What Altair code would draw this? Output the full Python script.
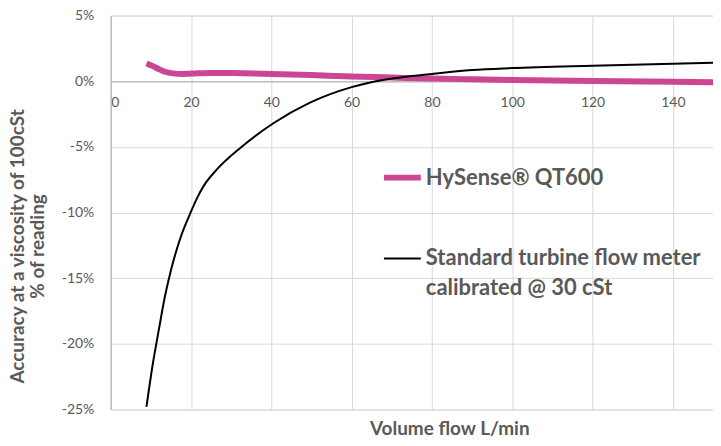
import altair as alt
import pandas as pd

# Values
flow_hysense = [8.9, 10.5, 12, 13.5, 15.5, 18, 22, 25, 30, 40, 50, 60, 70, 80, 90, 100, 120, 140, 150]
acc_hysense = [1.35, 1.15, 0.92, 0.72, 0.6, 0.56, 0.6, 0.63, 0.62, 0.56, 0.47, 0.36, 0.28, 0.2, 0.15, 0.1, 0.02, -0.04, -0.07]

flow_turbine = [8.9, 10.5, 12, 13.5, 15, 17.4, 19.9, 21.5, 23.2, 26.5, 32.2, 40.5, 49.5, 60, 68.5, 80, 90, 100, 120, 140, 150]
acc_turbine = [-24.8, -21.5, -18.9, -16.4, -14.4, -11.9, -10.0, -8.9, -7.95, -6.7, -5.1, -3.2, -1.65, -0.45, 0.13, 0.55, 0.85, 1.0, 1.18, 1.33, 1.4]

series_names = ["HySense® QT600", "Standard turbine flow meter calibrated @ 30 cSt"]
series_colors = ["#CC4694", "#000000"]
series_widths = [6, 2]

x_ticks = [0, 20, 40, 60, 80, 100, 120, 140]
y_ticks = [-25, -20, -15, -10, -5, 0, 5]

df = pd.concat([
    pd.DataFrame({"flow": flow_hysense, "acc": acc_hysense, "series": series_names[0]}),
    pd.DataFrame({"flow": flow_turbine, "acc": acc_turbine, "series": series_names[1]}),
])

FONT = "Lato"
GRAY = "#595959"
PLOT_H = 395

legend = alt.Legend(
    title=None,
    orient="none",
    legendX=271,
    legendY=141,
    symbolType="stroke",
    symbolSize=1369,
    labelFont=FONT,
    labelFontSize=22,
    labelFontWeight="bold",
    labelColor=GRAY,
    labelOffset=2,
    rowPadding=49,
    padding=0,
    labelLimit=500,
    labelExpr="datum.label == 'Standard turbine flow meter calibrated @ 30 cSt' ? "
              "['Standard turbine flow meter', 'calibrated @ 30 cSt'] : datum.label",
)

chart = alt.Chart(df).mark_line(interpolate="monotone", clip=True).encode(
    x=alt.X("flow:Q",
            scale=alt.Scale(domain=[0, 150], nice=False),
            axis=alt.Axis(values=x_ticks, title=None, offset=-PLOT_H * 25 / 30,
                          grid=True, gridColor="#D9D9D9", domainColor="#BFBFBF",
                          domainWidth=1.5, ticks=False, labelPadding=14,
                          labelFont=FONT, labelFontSize=14, labelColor=GRAY)),
    y=alt.Y("acc:Q",
            scale=alt.Scale(domain=[-25, 5], nice=False),
            axis=alt.Axis(values=y_ticks, labelExpr="datum.value + '%'",
                          title=["Accuracy at a viscosity of 100cSt", "% of reading"],
                          titleFont=FONT, titleFontSize=19, titleFontWeight="bold",
                          titleColor=GRAY, titlePadding=14, titleLineHeight=20,
                          titleY=231,
                          grid=True, gridColor="#D9D9D9", domainColor="#BFBFBF",
                          domainWidth=1.5, ticks=False, labelPadding=17,
                          labelFont=FONT, labelFontSize=14, labelColor=GRAY)),
    color=alt.Color("series:N", scale=alt.Scale(domain=series_names, range=series_colors),
                    legend=legend),
    strokeWidth=alt.StrokeWidth("series:N", scale=alt.Scale(domain=series_names, range=series_widths),
                                legend=legend),
).properties(
    width=604,
    height=PLOT_H,
    padding={"left": 0, "top": 0, "right": 0, "bottom": 0},
    title=alt.TitleParams("Volume flow L/min", orient="bottom", anchor="middle",
                          font=FONT, fontSize=19, fontWeight="bold", color=GRAY,
                          dx=38, offset=4),
).configure_view(stroke=None).configure(
    style={"guide-label": {"lineHeight": 30}}
)

chart.save("out.html", embed_options={"renderer": "svg", "actions": False})
